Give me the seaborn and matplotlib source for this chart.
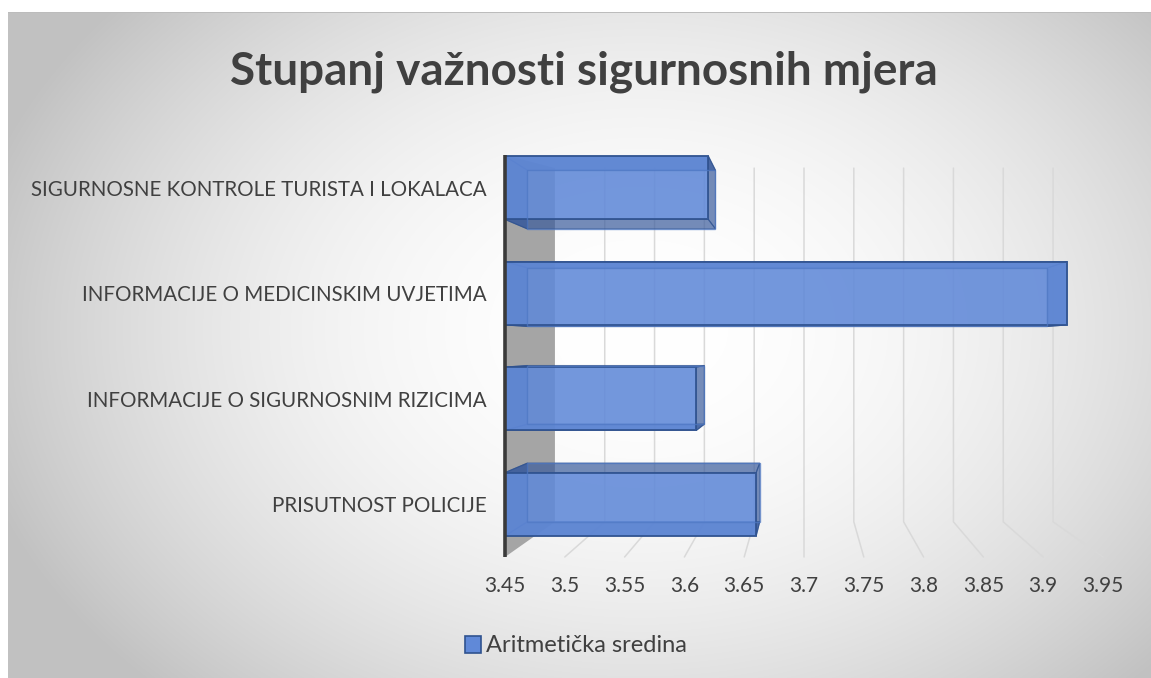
import numpy as np
import pandas as pd
import matplotlib
matplotlib.use("Agg")
import matplotlib.pyplot as plt
from matplotlib.patches import Patch, Polygon
import seaborn as sns

# ---- data ----
categories = [
    "SIGURNOSNE KONTROLE TURISTA I LOKALACA",
    "INFORMACIJE O MEDICINSKIM UVJETIMA",
    "INFORMACIJE O SIGURNOSNIM RIZICIMA",
    "PRISUTNOST POLICIJE",
]
values = [3.62, 3.92, 3.61, 3.66]
series_name = "Aritmetička sredina"
title = "Stupanj važnosti sigurnosnih mjera"
x_ticks = [3.45, 3.5, 3.55, 3.6, 3.65, 3.7, 3.75, 3.8, 3.85, 3.9, 3.95]
x_tick_labels = ["3.45", "3.5", "3.55", "3.6", "3.65", "3.7", "3.75", "3.8", "3.85", "3.9", "3.95"]

df = pd.DataFrame({"kategorija": categories, "vrijednost": values})

sns.set_theme(style="white")
plt.rcParams["font.family"] = ["Lato", "DejaVu Sans"]

W, H = 1151, 678
fig = plt.figure(figsize=(W / 100, H / 100), dpi=100)

# ---- background gradient ----
bg = fig.add_axes([0, 0, 1, 1], zorder=-10)
yy, xx = np.mgrid[0:H, 0:W]
t2 = ((xx - 640) / 640.0) ** 2 + ((yy - 330) / 470.0) ** 2
val = 1 - 0.21 * np.clip(t2, 0, 1.15)
img = np.dstack([val, val, val])
img[:12, :, :] = 1.0
img[:, :8, :] = 1.0
img[12, 8:, :] = 0.74
bg.imshow(img, aspect="auto", extent=[0, W, H, 0], interpolation="bilinear")
bg.set_axis_off()

# ---- main axes ----
ax_left, ax_right, ax_top, ax_bottom = 505, 1103, 135, 557
ax = fig.add_axes([ax_left / W, 1 - ax_bottom / H, (ax_right - ax_left) / W, (ax_bottom - ax_top) / H])
ax.patch.set_alpha(0)

bar_face = "#6089D8"
bar_edge = "#2F528F"
side_col = "#3B5C9C"

sns.barplot(data=df, x="vrijednost", y="kategorija", orient="h", color=bar_face,
            width=0.6, edgecolor=bar_edge, linewidth=1.4, saturation=1, alpha=0.88,
            ax=ax, zorder=5)

xmin, xmax = x_ticks[0], x_ticks[-1]
ax.set_xlim(xmin, xmax)
ax.set_ylim(3.5, -0.5)

# perspective helpers (vanishing point at 3.70)
vx = 3.70
wall_rx, wall_vy, wall_ry = 0.833, 0.72, 0.88
front_top, front_bottom = -0.31, 3.5


def back_x(v, r):
    return vx + r * (v - vx)


def back_y(y, vy, r):
    return vy + r * (y - vy)


bt = back_y(front_top, wall_vy, wall_ry)
bb = back_y(front_bottom, wall_vy, wall_ry)
bx0 = back_x(xmin, wall_rx)

# gray side wall
wall = Polygon([(xmin, front_top), (bx0, bt), (bx0, bb), (xmin, front_bottom)],
               closed=True, facecolor="#a5a5a5", edgecolor="none", zorder=1, clip_on=False)
ax.add_patch(wall)

# grid lines on back wall + floor
for v in x_ticks[1:]:
    b = back_x(v, wall_rx)
    ax.plot([b, b, v], [bt, bb, front_bottom], color="#d9d9d9", lw=1.1, zorder=2,
            solid_joinstyle="miter", clip_on=False)

# axis line
ax.plot([xmin, xmin], [front_top, front_bottom], color="#3a3a3a", lw=2.6, zorder=6,
        clip_on=False, solid_capstyle="butt")

# pseudo-3D depth faces derived from the seaborn bars
bar_vy, bar_r = 1.5, 0.925
for p in list(ax.patches):
    if p is wall:
        continue
    x0 = max(p.get_x(), xmin)
    x1 = p.get_x() + p.get_width()
    y0 = p.get_y()
    y1 = y0 + p.get_height()
    front = [(x0, y0), (x1, y0), (x1, y1), (x0, y1)]
    back = [(back_x(x, bar_r), back_y(y, bar_vy, bar_r)) for x, y in front]
    for i in range(4):
        j = (i + 1) % 4
        quad = [front[i], front[j], back[j], back[i]]
        ax.add_patch(Polygon(quad, closed=True, facecolor=side_col, edgecolor=bar_edge,
                             lw=0.8, alpha=0.7, zorder=4))
    ax.add_patch(Polygon(back, closed=True, facecolor="none", edgecolor="#5079c4",
                         lw=1.0, alpha=0.7, zorder=5.5))

for s in ax.spines.values():
    s.set_visible(False)
ax.set_xticks(x_ticks)
ax.set_xticklabels(x_tick_labels)
ax.set_xlabel("")
ax.set_ylabel("")
ax.tick_params(axis="x", length=0, pad=14, labelsize=15, labelcolor="#404040")
ax.tick_params(axis="y", length=0, pad=13, labelsize=14.8, labelcolor="#404040")
ax.grid(False)

# title
fig.text(584 / W, 1 - 72 / H, title, ha="center", va="center", fontsize=33,
         fontweight="bold", color="#404040")

# legend
handles = [Patch(facecolor=bar_face, edgecolor=bar_edge, linewidth=1.2, label=series_name)]
fig.legend(handles=handles, loc="center", bbox_to_anchor=(576 / W, 1 - 646 / H), frameon=False,
           fontsize=17, labelcolor="#404040", handlelength=0.7, handleheight=0.7,
           handletextpad=0.2)

fig.savefig("out.png", dpi=100)
